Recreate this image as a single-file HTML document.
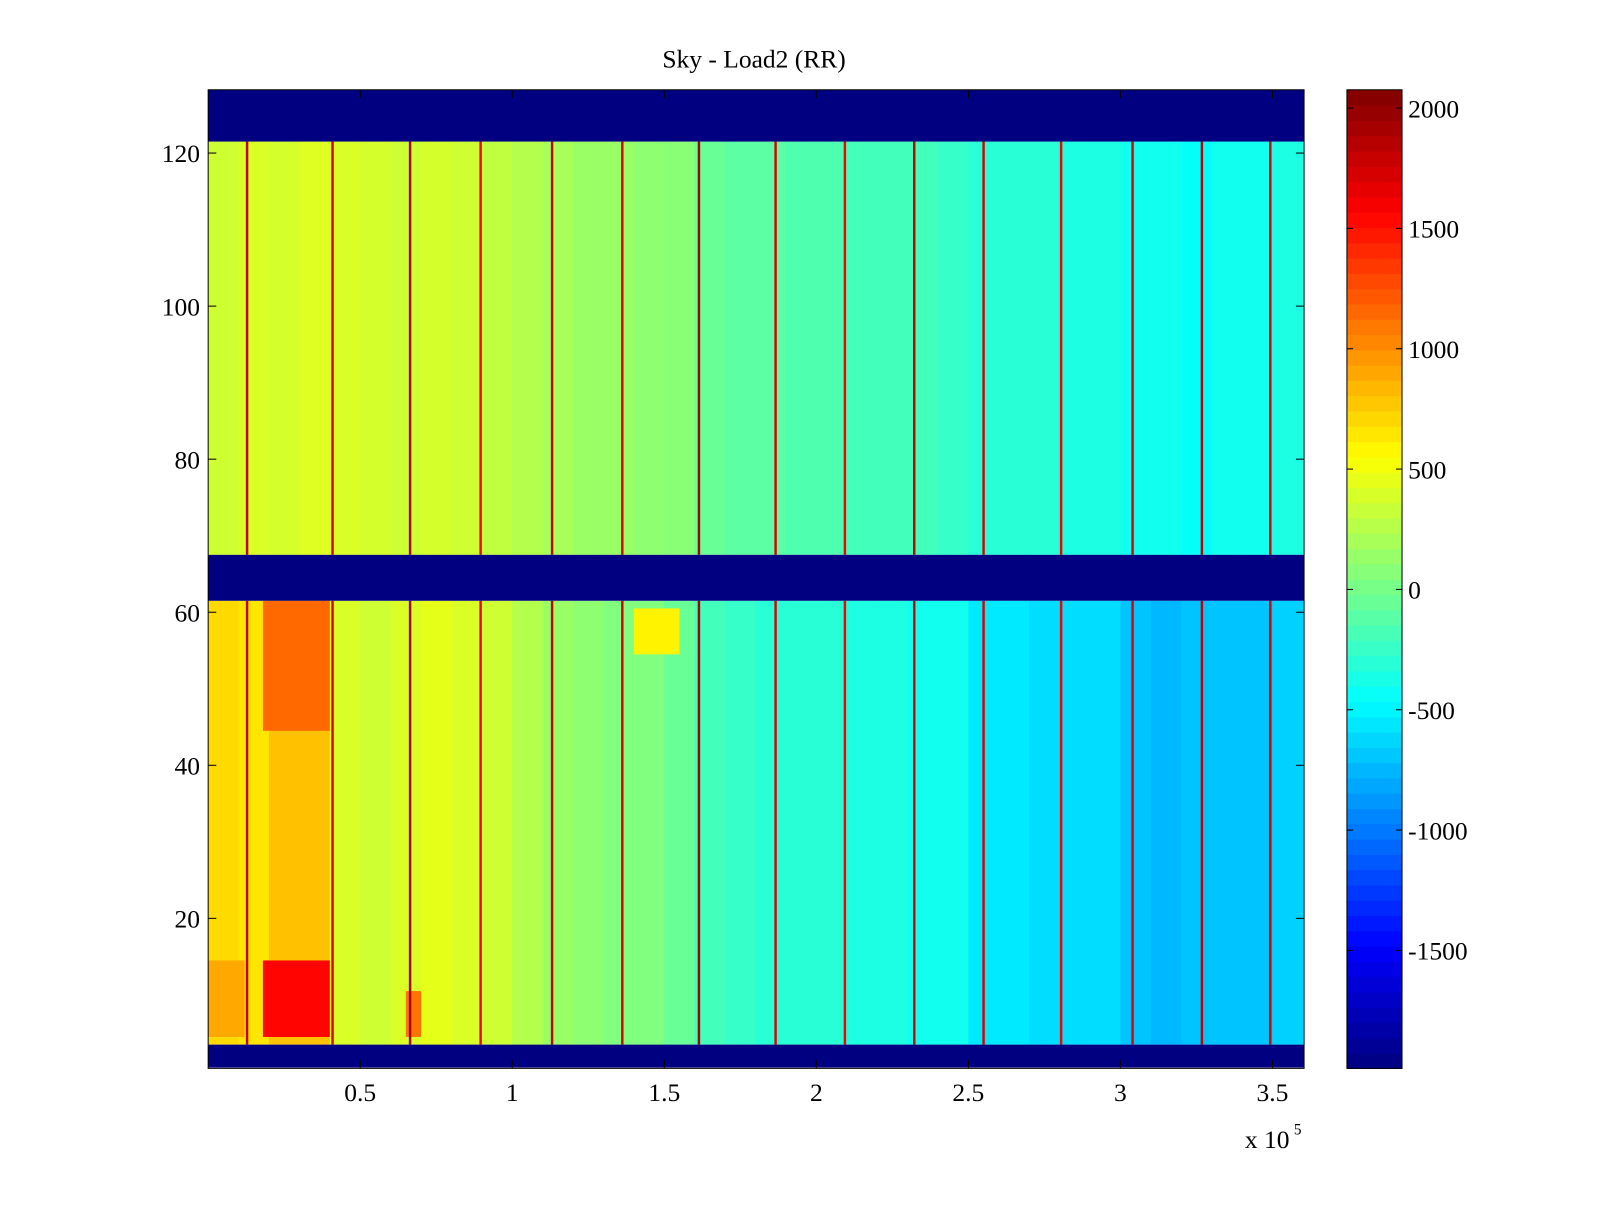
<!DOCTYPE html>
<html><head><meta charset="utf-8"><style>
html,body{margin:0;padding:0;background:#fff;}
svg text{font-family:"Liberation Serif",serif;fill:#000;}
</style></head><body>
<svg id="chart" width="1600" height="1200" viewBox="0 0 1600 1200" xmlns="http://www.w3.org/2000/svg">
<g transform="scale(1.0204)">
<text x="739" y="66" font-size="25" text-anchor="middle">Sky - Load2 (RR)</text>
<g id="cells"></g>
<g id="cbar"></g>
<g id="axes"></g>
</g>
</svg>
<script>
// ---- data ----
const xBinWidth = 0.1; // x bins in units of 1e5
const upperMeans = [350,400,380,420,400,380,350,380,350,300,250,200,150,150,100,80,-50,-100,-100,-150,-150,-200,-200,-200,-250,-300,-300,-300,-350,-350,-400,-400,-450,-400,-400,-350];
const lowerMeans = [700,650,800,800,400,350,400,450,400,350,250,150,100,50,50,-50,-200,-250,-300,-300,-300,-350,-350,-400,-400,-550,-550,-600,-600,-600,-700,-750,-700,-700,-700,-650];
const maskedRanges = [[1,3],[62,67],[122,128]];
const upperRows = [68,121];
const lowerRows = [4,61];
const hotX0 = [0.18,0.18,0.0,0.65,1.4];
const hotX1 = [0.40,0.40,0.12,0.70,1.55];
const hotR0 = [5,45,5,5,55];
const hotR1 = [14,61,14,10,60];
const hotVal = [1550,1150,900,1100,600];
const stripeX = [0.128,0.409,0.664,0.896,1.131,1.362,1.614,1.866,2.094,2.322,2.550,2.805,3.040,3.268,3.493];
const stripeVal = [1800,1700,1900,1600,1800,1700,1900,1700,1600,1800,1700,1600,1700,1800,1700];
const xTicks = [0.5,1,1.5,2,2.5,3,3.5];
const yTicks = [20,40,60,80,100,120];
const cTicks = [-1500,-1000,-500,0,500,1000,1500,2000];
const cMin = -1990, cMax = 2076;
const xMax = 3.604;

// ---- axes ----
const L=204,R=1278,T=88,B=1047;
const xs = v => L + v/xMax*(R-L);
const ys = r => 1050 - r*7.5;
function jet(t){
  t=Math.max(0,Math.min(1,t));
  const f=x=>Math.max(0,Math.min(1,x));
  const r=f(1.5-Math.abs(4*t-3)), g=f(1.5-Math.abs(4*t-2)), b=f(1.5-Math.abs(4*t-1));
  return `rgb(${Math.round(r*255)},${Math.round(g*255)},${Math.round(b*255)})`;
}
const col = v => jet((v-cMin)/(cMax-cMin));
const NS="http://www.w3.org/2000/svg";
function rect(g,x,y,w,h,fill,name){
  const r=document.createElementNS(NS,'rect');
  r.setAttribute('x',x);r.setAttribute('y',y);r.setAttribute('width',w);r.setAttribute('height',h);r.setAttribute('fill',fill);
  
  
  g.appendChild(r);return r;
}
const cells=document.getElementById('cells');
function band(rows,means,nm){
  for(let i=0;i<means.length;i++){
    const x0=xs(i*xBinWidth), x1=xs(Math.min((i+1)*xBinWidth,xMax));
    rect(cells,x0,ys(rows[1]+0.5),x1-x0+0.5,ys(rows[0]-0.5)-ys(rows[1]+0.5),col(means[i]),nm);
  }
}
band(upperRows,upperMeans,'upper-cell');
band(lowerRows,lowerMeans,'lower-cell');
for(let i=0;i<hotVal.length;i++){
  rect(cells,xs(hotX0[i]),ys(hotR1[i]+0.5),xs(hotX1[i])-xs(hotX0[i]),ys(hotR0[i]-0.5)-ys(hotR1[i]+0.5),col(hotVal[i]),'hotspot');
}
for(let i=0;i<stripeX.length;i++){
  rect(cells,xs(stripeX[i])-1.2,ys(upperRows[1]+0.5),2.4,ys(upperRows[0]-0.5)-ys(upperRows[1]+0.5),col(stripeVal[i]),'stripe');
  rect(cells,xs(stripeX[i])-1.2,ys(lowerRows[1]+0.5),2.4,ys(lowerRows[0]-0.5)-ys(lowerRows[1]+0.5),col(stripeVal[i]),'stripe');
}
for(const m of maskedRanges){
  const y0=Math.max(T,ys(m[1]+0.5)), y1=Math.min(B,ys(m[0]-0.5));
  rect(cells,L,y0,R-L,y1-y0,col(cMin),'masked-band');
}
// colorbar
const cb=document.getElementById('cbar');
const CL=1320,CR=1374;
const cy=v=>B-(v-cMin)/(cMax-cMin)*(B-T);
for(let k=0;k<64;k++){
  const v0=cMin+k*(cMax-cMin)/64, v1=cMin+(k+1)*(cMax-cMin)/64;
  rect(cb,CL,cy(v1),CR-CL,cy(v0)-cy(v1)+0.6,col((v0+v1)/2),'colorbar-segment');
}
const ax=document.getElementById('axes');
function line(x1,y1,x2,y2,name){
  const l=document.createElementNS(NS,'line');
  l.setAttribute('x1',x1);l.setAttribute('y1',y1);l.setAttribute('x2',x2);l.setAttribute('y2',y2);
  l.setAttribute('stroke','#000');l.setAttribute('stroke-width','1');
  
  
  ax.appendChild(l);
}
function text(x,y,s,anchor,size,name){
  const t=document.createElementNS(NS,'text');
  t.setAttribute('x',x);t.setAttribute('y',y);t.setAttribute('text-anchor',anchor);t.setAttribute('font-size',size);
  t.textContent=s;
  
  
  ax.appendChild(t);return t;
}
const frame=document.createElementNS(NS,'rect');
frame.setAttribute('x',L);frame.setAttribute('y',T);frame.setAttribute('width',R-L);frame.setAttribute('height',B-T);
frame.setAttribute('fill','none');frame.setAttribute('stroke','#000');


ax.appendChild(frame);
const cf=document.createElementNS(NS,'rect');
cf.setAttribute('x',CL);cf.setAttribute('y',T);cf.setAttribute('width',CR-CL);cf.setAttribute('height',B-T);
cf.setAttribute('fill','none');cf.setAttribute('stroke','#000');


ax.appendChild(cf);
for(const v of xTicks){
  const x=xs(v);
  line(x,B,x,B-8,'x-tick');line(x,T,x,T+8,'x-tick');
  text(x,1079,String(v),'middle',25,'x-tick-label');
}
for(const v of yTicks){
  const y=ys(v);
  line(L,y,L+8,y,'y-tick');line(R,y,R-8,y,'y-tick');
  text(196,y+9,String(v),'end',25,'y-tick-label');
}
for(const v of cTicks){
  const y=cy(v);
  line(CL,y,CL+6,y,'colorbar-tick');line(CR,y,CR-6,y,'colorbar-tick');
  text(1380,y+9,String(v),'start',25,'colorbar-tick-label');
}
text(1220,1125,'x 10','start',25,'x-exponent-label');
text(1268,1112,'5','start',15,'x-exponent-power');
</script>
</body></html>
